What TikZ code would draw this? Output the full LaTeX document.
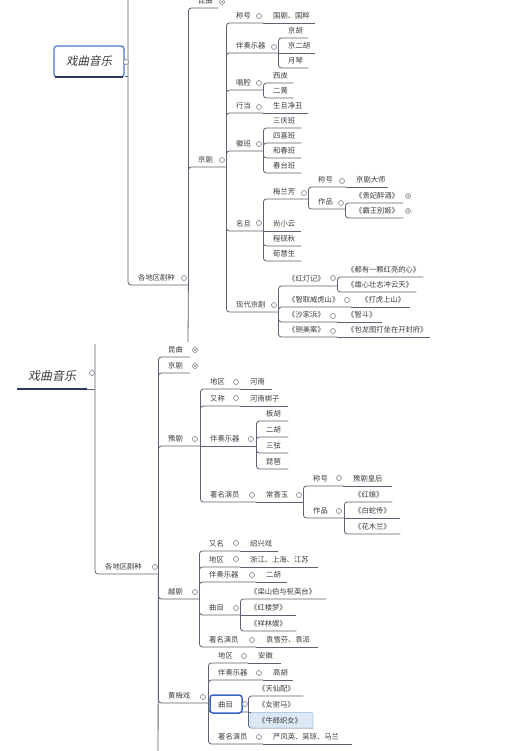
\documentclass[tikz,border=0pt]{standalone}
\usepackage{fontspec}
\setmainfont{Noto Sans CJK SC}
\newfontfamily\itcjk{Noto Sans CJK SC}[FakeSlant=0.2]
\definecolor{linec}{RGB}{92,98,114}
\definecolor{txtc}{RGB}{60,60,64}
\definecolor{circc}{RGB}{125,128,135}
\definecolor{rootblue}{RGB}{80,118,200}
\definecolor{rootnavy}{RGB}{44,58,92}
\definecolor{selblue}{RGB}{58,100,194}
\definecolor{hlfill}{RGB}{220,233,244}
\definecolor{hldraw}{RGB}{176,204,228}
\pgfdeclarelayer{bg}
\pgfdeclarelayer{lines}
\pgfdeclarelayer{hl}
\pgfsetlayers{bg,lines,hl,main}
\newcommand\mmtopic[5]{% name, left x, underline y, right x, text
  \pgfmathsetmacro\mmw{#4-#2}%
  \node[topicbox, anchor=south west] (#1) at (#2,#3) {\makebox[\mmw pt][l]{\hspace{10pt}#5}};}
\newcommand\mmcirc[3]{\node[cir] (#1) at (#2,#3) {};}
\newcommand\mmdot[3]{\node[cir, path picture={\fill[circc] (path picture bounding box.center) circle (1pt);}] (#1) at (#2,#3) {};}
\newcommand\mmlink[2]{\draw[conn] (#1.south east) |- (#2.south east);}
\newcommand\mmstr[2]{\draw[conn] (#1.south east) -- (#2.south east);}
\begin{document}
\begin{tikzpicture}[x=1pt,y=-1pt,
  topicbox/.style={inner sep=0pt, minimum height=14pt, text=txtc, font=\fontsize{7.3pt}{8pt}\selectfont},
  cir/.style={circle, draw=circc, fill=white, line width=0.6pt, minimum size=5pt, inner sep=0pt},
  conn/.style={draw=linec, line width=0.8pt, rounded corners=3pt}]
\useasboundingbox (0,0) rectangle (517,751);
\clip (0,0) rectangle (517,751);
\begin{pgfonlayer}{bg}
\fill[white] (0,0) rectangle (517,751);
\end{pgfonlayer}

% ================= upper screenshot =================
\node[draw=rootblue, line width=1.3pt, fill=white, rounded corners=3pt, minimum width=70pt, minimum height=31pt, inner sep=0pt, text=txtc, font=\itcjk\fontsize{11.5pt}{13pt}\selectfont] (rootA) at (89,61.5) {戏曲音乐};
\draw[rootnavy, line width=2pt] ([xshift=2pt,yshift=1pt]rootA.south west) -- ([xshift=-2pt,yshift=1pt]rootA.south east);
\mmcirc{rootAc}{126}{62}

\mmtopic{gdA}{128}{285}{188}{各地区剧种}
\mmcirc{gdAc}{184}{278}
\mmtopic{kqA}{188}{8}{218}{昆曲}
\mmdot{kqAc}{222}{2}
\mmtopic{jjA}{188}{167}{226}{京剧}
\mmcirc{jjAc}{222}{160}

\mmtopic{chA}{226}{23}{263}{称号}
\mmcirc{chAc}{259}{16}
\mmtopic{chAv}{263}{23}{315}{国剧、国粹}
\mmtopic{bzA}{226}{53}{278}{伴奏乐器}
\mmcirc{bzAc}{274}{47}
\mmtopic{bzA1}{278}{38}{308}{京胡}
\mmtopic{bzA2}{278}{53}{315}{京二胡}
\mmtopic{bzA3}{278}{68}{308}{月琴}
\mmtopic{cqA}{226}{90}{263}{唱腔}
\mmcirc{cqAc}{259}{83}
\mmtopic{cqA1}{263}{83}{293}{西皮}
\mmtopic{cqA2}{263}{98}{293}{二黄}
\mmtopic{hdA}{226}{113}{263}{行当}
\mmcirc{hdAc}{259}{107}
\mmtopic{hdAv}{263}{113}{308}{生旦净丑}
\mmtopic{hbA}{226}{151}{263}{徽班}
\mmcirc{hbAc}{259}{144}
\mmtopic{hbA1}{263}{128}{301}{三庆班}
\mmtopic{hbA2}{263}{143}{301}{四喜班}
\mmtopic{hbA3}{263}{158}{301}{和春班}
\mmtopic{hbA4}{263}{173}{301}{春台班}
\mmtopic{mdA}{226}{231}{263}{名旦}
\mmcirc{mdAc}{259}{223}
\mmtopic{mlf}{263}{199}{308}{梅兰芳}
\mmcirc{mlfc}{304}{193}
\mmtopic{mlfA}{308}{187}{346}{称号}
\mmcirc{mlfAc}{342}{181}
\mmtopic{mlfAv}{346}{187}{388}{京剧大师}
\mmtopic{mlfB}{308}{209}{345}{作品}
\mmcirc{mlfBc}{341}{203}
\mmtopic{mlfB1}{345}{203}{403}{《贵妃醉酒》}
\mmdot{mlfB1c}{408}{196}
\mmtopic{mlfB2}{345}{218}{403}{《霸王别姬》}
\mmdot{mlfB2c}{408}{211}
\mmtopic{mdA2}{263}{231}{301}{尚小云}
\mmtopic{mdA3}{263}{246}{301}{程砚秋}
\mmtopic{mdA4}{263}{261}{301}{荀慧生}
\mmtopic{xdA}{226}{312}{278}{现代京剧}
\mmcirc{xdAc}{274}{305}
\mmtopic{hdj}{278}{286}{337}{《红灯记》}
\mmcirc{hdjc}{333}{278}
\mmtopic{hdj1}{337}{277}{423}{《都有一颗红亮的心》}
\mmtopic{hdj2}{337}{292}{416}{《雄心壮志冲云天》}
\mmtopic{zq}{278}{307}{351}{《智取威虎山》}
\mmcirc{zqc}{347}{300}
\mmtopic{zqv}{351}{307}{410}{《打虎上山》}
\mmtopic{sjb}{278}{322}{337}{《沙家浜》}
\mmcirc{sjbc}{333}{316}
\mmtopic{sjbv}{337}{322}{382}{《智斗》}
\mmtopic{zma}{278}{337}{337}{《铡美案》}
\mmcirc{zmac}{333}{331}
\mmtopic{zmav}{337}{337}{430}{《包龙图打坐在开封府》}

\coordinate (tA) at (128,-6);
\coordinate (eA) at (188,342);

\begin{pgfonlayer}{lines}
\draw[conn] (tA) |- (gdA.south east);
\draw[conn] ([yshift=1pt]rootA.south east) -- ([yshift=1pt]rootA.south east -| tA);
\mmlink{gdA}{kqA}
\mmlink{gdA}{jjA}
\draw[conn] (gdA.south east) -- (eA);
\mmlink{jjA}{chA}\mmlink{jjA}{bzA}\mmlink{jjA}{cqA}\mmlink{jjA}{hdA}
\mmlink{jjA}{hbA}\mmlink{jjA}{mdA}\mmlink{jjA}{xdA}
\mmstr{chA}{chAv}
\mmlink{bzA}{bzA1}\mmstr{bzA}{bzA2}\mmlink{bzA}{bzA3}
\mmlink{cqA}{cqA1}\mmlink{cqA}{cqA2}
\mmstr{hdA}{hdAv}
\mmlink{hbA}{hbA1}\mmlink{hbA}{hbA2}\mmlink{hbA}{hbA3}\mmlink{hbA}{hbA4}
\mmlink{mdA}{mlf}\mmstr{mdA}{mdA2}\mmlink{mdA}{mdA3}\mmlink{mdA}{mdA4}
\mmlink{mlf}{mlfA}\mmlink{mlf}{mlfB}
\mmstr{mlfA}{mlfAv}
\mmlink{mlfB}{mlfB1}\mmlink{mlfB}{mlfB2}
\mmlink{xdA}{hdj}\mmlink{xdA}{zq}\mmlink{xdA}{sjb}\mmlink{xdA}{zma}
\mmlink{hdj}{hdj1}\mmlink{hdj}{hdj2}
\mmstr{zq}{zqv}\mmstr{sjb}{sjbv}\mmstr{zma}{zmav}
\end{pgfonlayer}

% ================= lower screenshot =================
\node[inner sep=0pt, minimum width=70pt, minimum height=26pt, text=txtc, font=\itcjk\fontsize{12pt}{14pt}\selectfont, anchor=south west] (rootB) at (17,389) {戏曲音乐};
\draw[rootnavy, line width=2.2pt] (rootB.south west) -- (rootB.south east);
\mmcirc{rootBc}{92}{373}

\mmtopic{gdB}{95}{574}{158}{各地区剧种}
\mmcirc{gdBc}{155}{567}
\mmtopic{kqB}{158}{357}{190}{昆曲}
\mmdot{kqBc}{195}{350}
\mmtopic{jjB}{158}{373}{190}{京剧}
\mmdot{jjBc}{195}{366}
\mmtopic{yjB}{158}{446}{200}{豫剧}
\mmcirc{yjBc}{195}{439}
\mmtopic{yjB1}{200}{389}{240}{地区}
\mmcirc{yjB1c}{236}{382}
\mmtopic{yjB1v}{240}{389}{272}{河南}
\mmtopic{yjB2}{200}{406}{240}{又称}
\mmcirc{yjB2c}{236}{398}
\mmtopic{yjB2v}{240}{406}{288}{河南梆子}
\mmtopic{yjB3}{200}{446}{256}{伴奏乐器}
\mmcirc{yjB3c}{251}{439}
\mmtopic{yjB31}{256}{421}{288}{板胡}
\mmtopic{yjB32}{256}{437}{288}{二胡}
\mmtopic{yjB33}{256}{453}{288}{三弦}
\mmtopic{yjB34}{256}{469}{288}{琵琶}
\mmtopic{yjB4}{200}{502}{256}{著名演员}
\mmcirc{yjB4c}{252}{495}
\mmtopic{cxy}{256}{502}{303}{常香玉}
\mmcirc{cxyc}{299}{495}
\mmtopic{cxyA}{303}{486}{343}{称号}
\mmcirc{cxyAc}{339}{478}
\mmtopic{cxyAv}{343}{486}{392}{豫剧皇后}
\mmtopic{cxyB}{303}{518}{344}{作品}
\mmcirc{cxyBc}{339}{511}
\mmtopic{cxyB1}{344}{502}{392}{《红娘》}
\mmtopic{cxyB2}{344}{518}{400}{《白蛇传》}
\mmtopic{cxyB3}{344}{534}{400}{《花木兰》}

\mmtopic{yueB}{158}{599}{199}{越剧}
\mmcirc{yueBc}{195}{592}
\mmtopic{yueB1}{199}{551}{240}{又名}
\mmcirc{yueB1c}{236}{543}
\mmtopic{yueB1v}{240}{551}{278}{绍兴戏}
\mmtopic{yueB2}{199}{567}{240}{地区}
\mmcirc{yueB2c}{236}{559}
\mmtopic{yueB2v}{240}{567}{318}{浙江、上海、江苏}
\mmtopic{yueB3}{199}{582}{256}{伴奏乐器}
\mmcirc{yueB3c}{252}{575}
\mmtopic{yueB3v}{256}{582}{287}{二胡}
\mmtopic{yueB4}{199}{615}{240}{曲目}
\mmcirc{yueB4c}{236}{608}
\mmtopic{yueB41}{240}{599}{326}{《梁山伯与祝英台》}
\mmtopic{yueB42}{240}{615}{296}{《红楼梦》}
\mmtopic{yueB43}{240}{631}{296}{《祥林嫂》}
\mmtopic{yueB5}{199}{647}{256}{著名演员}
\mmcirc{yueB5c}{252}{640}
\mmtopic{yueB5v}{256}{647}{318}{袁雪芬、袁派}

\mmtopic{hmB}{158}{703}{208}{黄梅戏}
\mmcirc{hmBc}{203}{697}
\mmtopic{hmB1}{208}{663}{248}{地区}
\mmcirc{hmB1c}{244}{656}
\mmtopic{hmB1v}{248}{663}{281}{安徽}
\mmtopic{hmB2}{208}{680}{263}{伴奏乐器}
\mmcirc{hmB2c}{259}{673}
\mmtopic{hmB2v}{263}{680}{293}{高胡}
\mmtopic{hmB3}{208}{712}{248}{曲目}
\mmcirc{hmB3c}{245}{704}
\mmtopic{hmB31}{248}{696}{303}{《天仙配》}
\mmtopic{hmB32}{248}{712}{303}{《女驸马》}
\mmtopic{hmB33}{248}{728}{313}{《牛郎织女》}
\mmtopic{hmB4}{208}{744}{263}{著名演员}
\mmcirc{hmB4c}{259}{737}
\mmtopic{hmB4v}{263}{744}{352}{严凤英、吴琼、马兰}
\mmtopic{pjB}{158}{763}{200}{评剧}

\coordinate (tB) at (95,344);
\coordinate (eB) at (158,780);

\begin{pgfonlayer}{hl}
\draw[selblue, line width=1.5pt, fill=white, rounded corners=3pt] (210,695) rectangle (242,713);
\draw[hldraw, fill=hlfill, line width=0.8pt, rounded corners=2pt] (250,712.5) rectangle (313,728);
\end{pgfonlayer}

\begin{pgfonlayer}{lines}
\draw[conn] (tB) |- (gdB.south east);
\draw[conn] (rootB.south east) -- (rootB.south east -| tB);
\mmlink{gdB}{kqB}\mmlink{gdB}{jjB}\mmlink{gdB}{yjB}\mmlink{gdB}{yueB}\mmlink{gdB}{hmB}
\draw[conn] (gdB.south east) -- (eB);
\mmlink{yjB}{yjB1}\mmlink{yjB}{yjB2}\mmstr{yjB}{yjB3}\mmlink{yjB}{yjB4}
\mmstr{yjB1}{yjB1v}\mmstr{yjB2}{yjB2v}
\mmlink{yjB3}{yjB31}\mmlink{yjB3}{yjB32}\mmlink{yjB3}{yjB33}\mmlink{yjB3}{yjB34}
\mmstr{yjB4}{cxy}
\mmlink{cxy}{cxyA}\mmlink{cxy}{cxyB}
\mmstr{cxyA}{cxyAv}
\mmlink{cxyB}{cxyB1}\mmstr{cxyB}{cxyB2}\mmlink{cxyB}{cxyB3}
\mmlink{yueB}{yueB1}\mmlink{yueB}{yueB2}\mmlink{yueB}{yueB3}\mmlink{yueB}{yueB4}\mmlink{yueB}{yueB5}
\mmstr{yueB1}{yueB1v}\mmstr{yueB2}{yueB2v}\mmstr{yueB3}{yueB3v}\mmstr{yueB5}{yueB5v}
\mmlink{yueB4}{yueB41}\mmstr{yueB4}{yueB42}\mmlink{yueB4}{yueB43}
\mmlink{hmB}{hmB1}\mmlink{hmB}{hmB2}\mmlink{hmB}{hmB3}\mmlink{hmB}{hmB4}
\mmstr{hmB1}{hmB1v}\mmstr{hmB2}{hmB2v}\mmstr{hmB4}{hmB4v}
\mmlink{hmB3}{hmB31}\mmstr{hmB3}{hmB32}\mmlink{hmB3}{hmB33}
\end{pgfonlayer}
\end{tikzpicture}
\end{document}
